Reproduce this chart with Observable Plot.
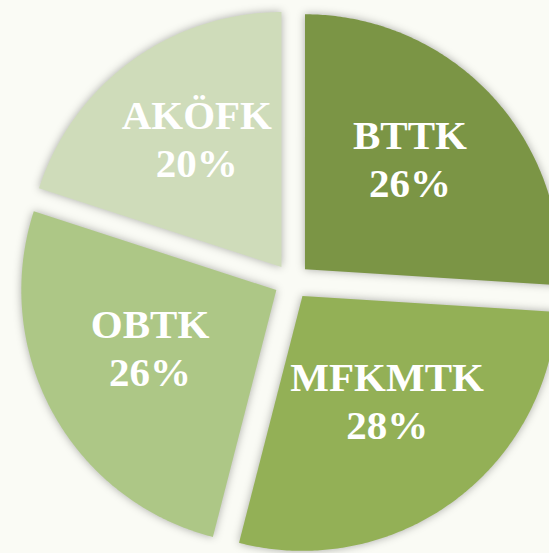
<!DOCTYPE html>
<html><head><meta charset="utf-8">
<script src="https://cdn.jsdelivr.net/npm/d3@7"></script>
<script src="https://cdn.jsdelivr.net/npm/@observablehq/plot@0.6"></script>
<style>
html,body{margin:0;padding:0;background:#fafbf5;overflow:hidden;}
#chart svg g[aria-label="line"] path{filter:drop-shadow(0 0 4px rgba(0,0,0,0.32));}
</style></head><body><div id="chart"></div>
<script>
const categories = ["BTTK", "MFKMTK", "OBTK", "AKÖFK"];
const values = [26, 28, 26, 20];
const colors = ["#7b9545", "#93b056", "#adc786", "#cfdcba"];

const total = d3.sum(values);
const pie = d3.pie().sort(null).value(d => d)(values);
const explode = 0.07;
const labelR = 0.635;

const slicePts = [];
const labels = [];
pie.forEach((p, i) => {
  const name = categories[i];
  const m = (p.startAngle + p.endAngle) / 2;
  const cx = explode * Math.sin(m), cy = explode * Math.cos(m);
  slicePts.push({name, x: cx, y: cy});
  const n = Math.ceil((p.endAngle - p.startAngle) / 0.01);
  for (let k = 0; k <= n; k++) {
    const a = p.startAngle + (p.endAngle - p.startAngle) * k / n;
    slicePts.push({name, x: cx + Math.sin(a), y: cy + Math.cos(a)});
  }
  labels.push({name, x: labelR * Math.sin(m), y: labelR * Math.cos(m),
    text: name + "\n" + Math.round(values[i] / total * 100) + "%"});
});

const chart = Plot.plot({
  width: 549, height: 553,
  margin: 0,
  style: {background: "#fafbf5", overflow: "hidden"},
  x: {domain: [-1.143, 1.010], axis: null},
  y: {domain: [-1.067, 1.102], axis: null},
  color: {domain: categories, range: colors},
  marks: [
    Plot.line(slicePts, {x: "x", y: "y", z: "name", fill: "name", stroke: null, curve: "linear"}),
    Plot.text(labels, {x: "x", y: "y", text: "text", fill: "white", fontSize: 41, dy: -13,
      fontWeight: "bold", fontFamily: "'Liberation Serif', 'Times New Roman', serif", lineHeight: 1.17})
  ]
});
document.getElementById("chart").appendChild(chart);
</script></body></html>
